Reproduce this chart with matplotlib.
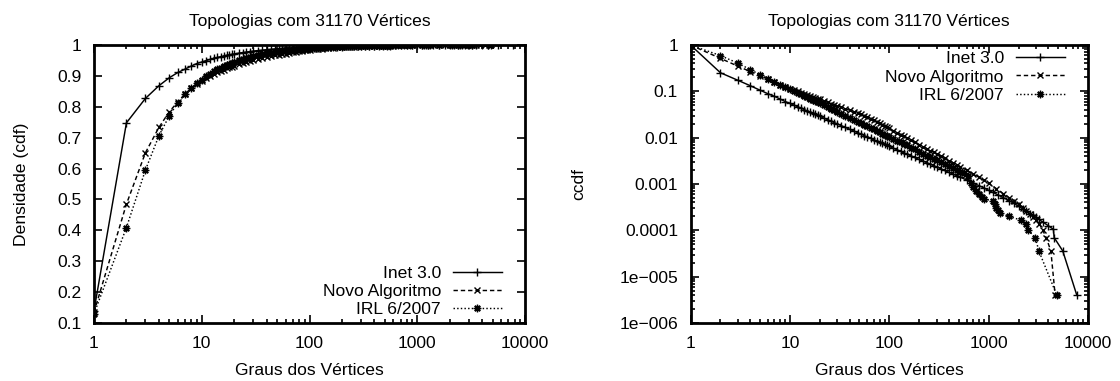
import matplotlib
matplotlib.use("Agg")
import matplotlib.pyplot as plt
from matplotlib.ticker import LogLocator, NullFormatter

plt.rcParams['font.family'] = ['Liberation Sans', 'DejaVu Sans']
plt.rcParams['font.size'] = 12.6

title_text = "Topologias com 31170 Vértices"
xlabel_text = "Graus dos Vértices"
series_names = ["Inet 3.0", "Novo Algoritmo", "IRL 6/2007"]

# (degree, cdf, ccdf) rows
inet_rows = [
    (1, 0.140, 1.0), (2, 0.748, 0.252), (3, 0.827, 0.173), (4, 0.868, 0.132),
    (5, 0.894, 0.106), (6, 0.911, 0.089), (7, 0.922, 0.078), (8, 0.932, 0.068),
    (9, 0.940, 0.060), (10, 0.945, 0.055), (11, 0.9497, 0.0503), (12, 0.9536, 0.0464),
    (13, 0.9569, 0.0431), (14, 0.9598, 0.0402), (15, 0.9623, 0.0377), (16, 0.9645, 0.0355),
    (17, 0.9664, 0.0336), (18, 0.9682, 0.0318), (19, 0.9697, 0.0303), (20, 0.9711, 0.0289),
    (22, 0.9736, 0.0264), (24, 0.9756, 0.0244), (26, 0.9774, 0.0226), (28, 0.9789, 0.0211),
    (30, 0.9802, 0.0198), (33, 0.9819, 0.0181), (36, 0.9833, 0.0167), (40, 0.9848, 0.0152),
    (44, 0.9861, 0.0139), (48, 0.9872, 0.0128), (52, 0.9881, 0.0119), (56, 0.9889, 0.0111),
    (60, 0.9896, 0.0104), (65, 0.9904, 0.00965), (70, 0.9910, 0.0090), (75, 0.9916, 0.00844),
    (80, 0.9921, 0.00795), (85, 0.9925, 0.00752), (90, 0.9929, 0.00713), (95, 0.9932, 0.00678),
    (100, 0.9935, 0.00646), (110, 0.9941, 0.00591), (120, 0.9946, 0.00545), (130, 0.9949, 0.00506),
    (140, 0.9953, 0.00472), (150, 0.9956, 0.00443), (165, 0.9959, 0.00406), (180, 0.9963, 0.00374),
    (200, 0.9966, 0.00339), (220, 0.9969, 0.00310), (240, 0.9971, 0.00286), (260, 0.9973, 0.00265),
    (280, 0.9975, 0.00248), (300, 0.9977, 0.00233), (330, 0.9979, 0.00213), (360, 0.9980, 0.00196),
    (400, 0.9982, 0.00178), (440, 0.9984, 0.00163), (480, 0.9985, 0.0015), (520, 0.9986, 0.0014),
    (600, 0.9988, 0.00122), (700, 0.9990, 0.00105), (800, 0.9991, 0.00092), (900, 0.9992, 0.00082),
    (1000, 0.9993, 0.00073), (1100, 0.9993, 0.00066), (1250, 0.9994, 0.00058), (1400, 0.9995, 0.00051),
    (1600, 0.9996, 0.00044), (1800, 0.9996, 0.00038), (2000, 0.9997, 0.00033), (2200, 0.9997, 0.00029),
    (2400, 0.9997, 0.00026), (2600, 0.9998, 0.00023), (2800, 0.9998, 0.00021), (3000, 0.9998, 0.00019),
    (3200, 0.9998, 0.000172), (3500, 0.9998, 0.000152), (4000, 0.9999, 0.000125), (4490, 0.9999, 0.000105),
    (4560, 0.9999, 0.00007), (5570, 1.0, 0.000036), (7710, 1.0, 0.000004),
]

novo_rows = [
    (1, 0.135, 1.0), (2, 0.485, 0.515), (3, 0.651, 0.349), (4, 0.733, 0.267),
    (5, 0.784, 0.216), (6, 0.816, 0.184), (7, 0.842, 0.158), (8, 0.860, 0.140),
    (9, 0.874, 0.126), (10, 0.885, 0.115), (11, 0.8932, 0.1068), (12, 0.9002, 0.0998),
    (13, 0.9063, 0.0937), (14, 0.9116, 0.0884), (15, 0.9162, 0.0838), (16, 0.9203, 0.0797),
    (17, 0.9240, 0.0760), (18, 0.9273, 0.0727), (19, 0.9303, 0.0697), (20, 0.9330, 0.0670),
    (22, 0.9378, 0.0622), (24, 0.9419, 0.0581), (26, 0.9454, 0.0546), (28, 0.9485, 0.0515),
    (30, 0.9512, 0.0488), (33, 0.9547, 0.0453), (36, 0.9577, 0.0423), (40, 0.9610, 0.0390),
    (44, 0.9638, 0.0362), (48, 0.9662, 0.0338), (52, 0.9682, 0.0318), (56, 0.9700, 0.0300),
    (60, 0.9716, 0.0284), (65, 0.9741, 0.0259), (70, 0.9762, 0.0238), (75, 0.9780, 0.0220),
    (80, 0.9796, 0.0204), (85, 0.9810, 0.0190), (90, 0.9822, 0.0178), (95, 0.9833, 0.0167),
    (100, 0.9842, 0.0158), (110, 0.9859, 0.0141), (120, 0.9872, 0.0128), (130, 0.9883, 0.0117),
    (140, 0.9893, 0.0107), (150, 0.9901, 0.0099), (165, 0.9911, 0.00887), (180, 0.9920, 0.00803),
    (200, 0.9929, 0.00711), (220, 0.9936, 0.00637), (240, 0.9942, 0.00577), (260, 0.9947, 0.00526),
    (280, 0.9952, 0.00483), (300, 0.9955, 0.00446), (330, 0.9960, 0.0040), (360, 0.9964, 0.00362),
    (400, 0.9968, 0.0032), (440, 0.9971, 0.00287), (480, 0.9974, 0.0026), (520, 0.9976, 0.00237),
    (600, 0.9980, 0.0020), (700, 0.9984, 0.00165), (800, 0.9986, 0.0014), (900, 0.9988, 0.00119),
    (1000, 0.9990, 0.00103), (1200, 0.9992, 0.00079), (1400, 0.9994, 0.00062), (1600, 0.9995, 0.00051),
    (1800, 0.9996, 0.00044), (2000, 0.9996, 0.00037), (2200, 0.9997, 0.00031), (2400, 0.9997, 0.00026),
    (2600, 0.9998, 0.00022), (2800, 0.9998, 0.00019), (3000, 0.9998, 0.000166), (3250, 0.9999, 0.000135),
    (3515, 0.9999, 0.0001), (3790, 0.9999, 0.00007), (4230, 1.0, 0.000036), (4670, 1.0, 0.000004),
]

irl_rows = [
    (1, 0.130, 1.0), (2, 0.409, 0.591), (3, 0.595, 0.405), (4, 0.706, 0.294),
    (5, 0.771, 0.229), (6, 0.813, 0.187), (7, 0.840, 0.160), (8, 0.860, 0.140),
    (9, 0.876, 0.124), (10, 0.888, 0.112), (11, 0.8985, 0.1015), (12, 0.9072, 0.0928),
    (13, 0.9145, 0.0855), (14, 0.9208, 0.0792), (15, 0.9262, 0.0738), (16, 0.9310, 0.0690),
    (17, 0.9352, 0.0648), (18, 0.9389, 0.0611), (19, 0.9422, 0.0578), (20, 0.9452, 0.0548),
    (22, 0.9503, 0.0497), (24, 0.9545, 0.0455), (26, 0.9581, 0.0419), (28, 0.9612, 0.0388),
    (30, 0.9639, 0.0361), (33, 0.9673, 0.0327), (36, 0.9701, 0.0299), (40, 0.9731, 0.0269),
    (44, 0.9757, 0.0243), (48, 0.9777, 0.0223), (52, 0.9795, 0.0205), (56, 0.9810, 0.0190),
    (60, 0.9823, 0.0177), (65, 0.9837, 0.0163), (70, 0.9849, 0.0151), (75, 0.9860, 0.0140),
    (80, 0.9869, 0.0131), (85, 0.9877, 0.0123), (90, 0.9884, 0.0116), (95, 0.9891, 0.0109),
    (100, 0.9896, 0.0104), (110, 0.9906, 0.0094), (120, 0.9915, 0.0085), (130, 0.9921, 0.0079),
    (140, 0.9927, 0.0073), (150, 0.9932, 0.0068), (165, 0.9939, 0.0061), (180, 0.9944, 0.0056),
    (200, 0.9950, 0.0050), (220, 0.9955, 0.0045), (240, 0.9959, 0.0041), (260, 0.9962, 0.0038),
    (280, 0.9965, 0.0035), (300, 0.9967, 0.0033), (330, 0.9970, 0.0030), (360, 0.9973, 0.0027),
    (400, 0.9976, 0.0024), (440, 0.9978, 0.0022), (480, 0.9980, 0.0020), (520, 0.9982, 0.0018),
    (560, 0.9983, 0.0017), (620, 0.9985, 0.0015), (660, 0.9990, 0.00105), (700, 0.9992, 0.00085),
    (750, 0.9993, 0.0007), (800, 0.9994, 0.0006), (850, 0.9995, 0.00053), (900, 0.9995, 0.00048),
    (1100, 0.9996, 0.00043), (1150, 0.9996, 0.00037), (1200, 0.9997, 0.00031), (1250, 0.9997, 0.00027),
    (1300, 0.9998, 0.000235), (1600, 0.9998, 0.0002), (2100, 0.9998, 0.000167), (2400, 0.9999, 0.000135),
    (2500, 0.9999, 0.0001), (2950, 0.9999, 0.00007), (3200, 1.0, 0.000036), (4850, 1.0, 0.000004),
]

x_ticks = [1, 10, 100, 1000, 10000]
x_ticklabels = ["1", "10", "100", "1000", "10000"]
cdf_yticks = [0.1, 0.2, 0.3, 0.4, 0.5, 0.6, 0.7, 0.8, 0.9, 1.0]
cdf_yticklabels = ["0.1", "0.2", "0.3", "0.4", "0.5", "0.6", "0.7", "0.8", "0.9", "1"]
ccdf_yticks = [1e-6, 1e-5, 1e-4, 1e-3, 1e-2, 1e-1, 1]
ccdf_yticklabels = ["1e\u2212006", "1e\u2212005", "0.0001", "0.001", "0.01", "0.1", "1"]

asterisk = (8, 2, 0)
styles = [
    dict(ls='-', marker='+', ms=5.5, mew=1.0),
    dict(ls=(0, (3.0, 2.0)), marker='x', ms=4.4, mew=1.0),
    dict(ls=(0, (1.0, 1.5)), marker=asterisk, ms=5.4, mew=1.0),
]

fig = plt.figure(figsize=(11.2, 3.81), dpi=100)
ax1 = fig.add_axes([94 / 1120, 58 / 381, 431 / 1120, 278 / 381])
ax2 = fig.add_axes([690.5 / 1120, 58 / 381, 397.5 / 1120, 278 / 381])

all_rows = [inet_rows, novo_rows, irl_rows]
for rows, name, st in zip(all_rows, series_names, styles):
    deg = [r[0] for r in rows]
    cdf = [r[1] for r in rows]
    ccdf = [r[2] for r in rows]
    ax1.plot(deg, cdf, color='black', lw=1.05, label=name, **st)
    ax2.plot(deg, ccdf, color='black', lw=1.05, label=name, **st)

for ax in (ax1, ax2):
    ax.set_xscale('log')
    ax.set_xlim(1, 10000)
    ax.set_xticks(x_ticks, x_ticklabels)
    ax.xaxis.set_minor_locator(LogLocator(base=10, subs=range(2, 10), numticks=20))
    ax.xaxis.set_minor_formatter(NullFormatter())
    ax.tick_params(which='major', direction='in', top=True, right=True,
                   length=6, width=1.2, labelsize=12.6, pad=9)
    ax.tick_params(which='minor', direction='in', top=True, right=True,
                   length=3, width=1.2)
    for s in ax.spines.values():
        s.set_linewidth(2.0)
    ax.set_title(title_text, fontsize=12.6, pad=14)
    ax.set_xlabel(xlabel_text, fontsize=12.6, labelpad=9)

ax1.set_ylim(0.1, 1.0)
ax1.set_yticks(cdf_yticks, cdf_yticklabels)
ax1.set_ylabel("Densidade (cdf)", fontsize=12.6, labelpad=20)

ax2.set_yscale('log')
ax2.set_ylim(1e-6, 1)
ax2.set_yticks(ccdf_yticks, ccdf_yticklabels)
ax2.yaxis.set_minor_locator(LogLocator(base=10, subs=range(2, 10), numticks=20))
ax2.yaxis.set_minor_formatter(NullFormatter())
ax2.set_ylabel("ccdf", fontsize=12.6, labelpad=24)

leg_kw = dict(frameon=False, markerfirst=False, handlelength=2.8, handletextpad=0.67,
              labelspacing=0.17, borderpad=0, borderaxespad=0, numpoints=1, fontsize=12.6)
ax1.legend(loc='lower right', bbox_to_anchor=(0.946, 0.02), **leg_kw)
ax2.legend(loc='upper right', bbox_to_anchor=(0.941, 0.978), **leg_kw)

fig.savefig("out.png", dpi=100)
